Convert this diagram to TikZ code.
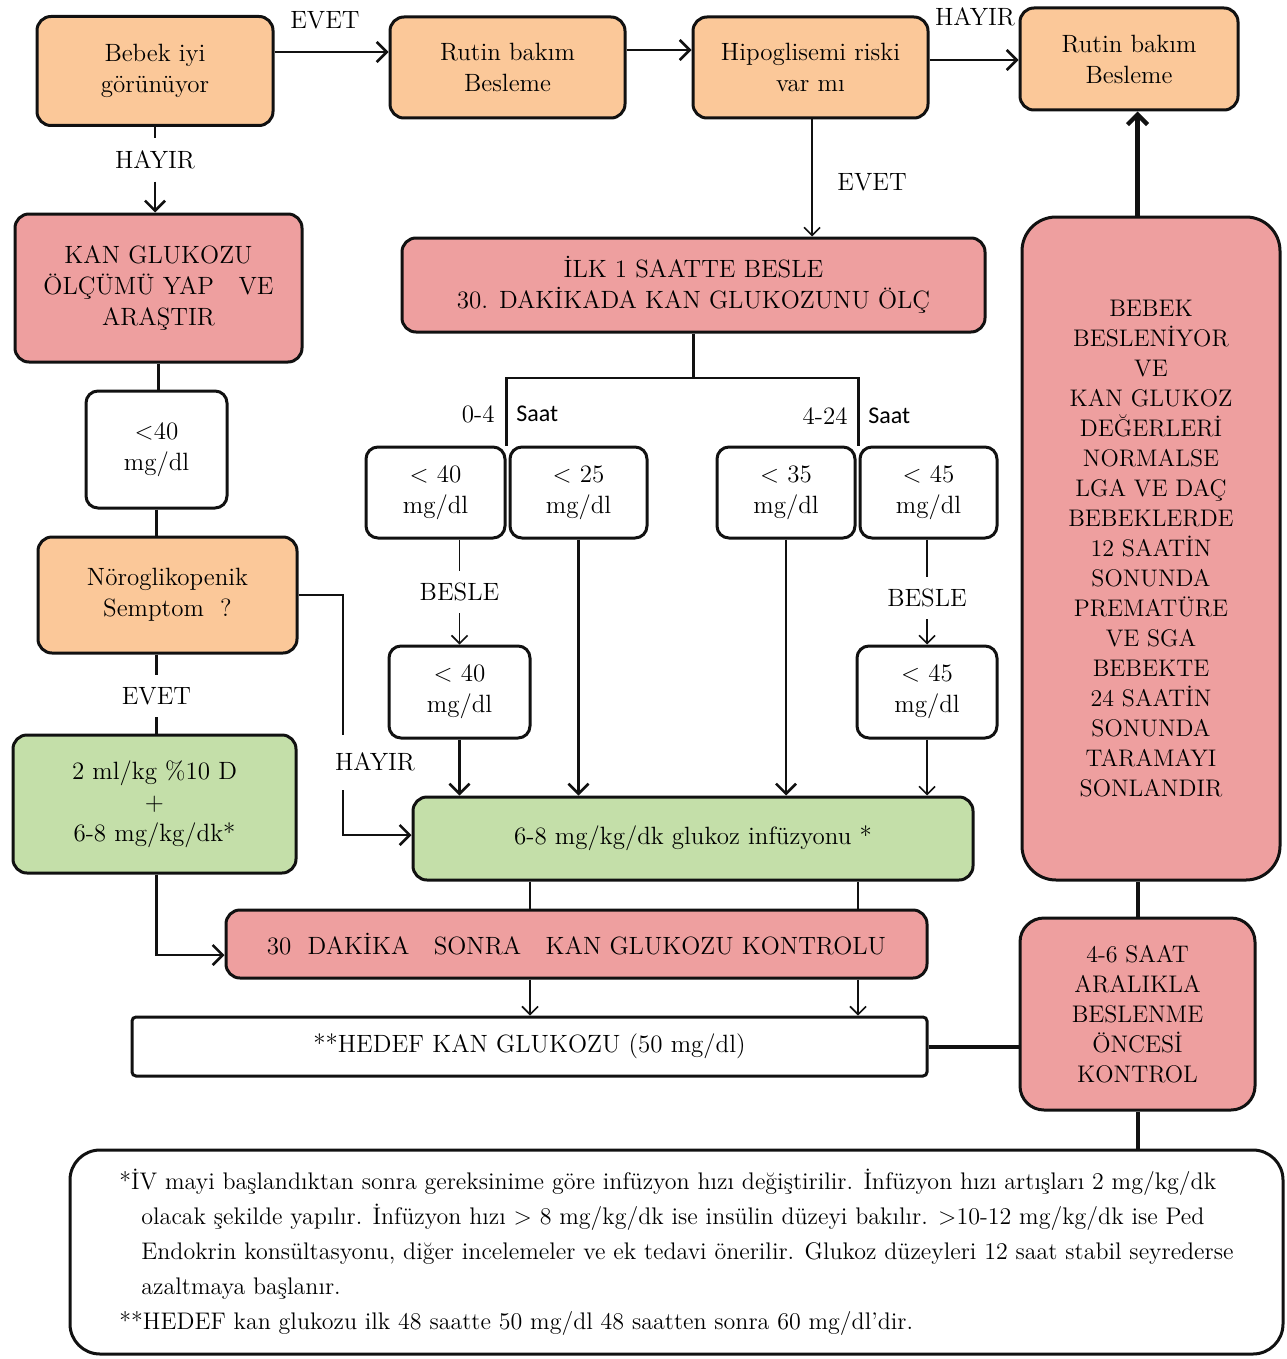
\documentclass[tikz,border=0pt]{standalone}
\usepackage{fontspec}
\newfontfamily\saatfont{Carlito}
\usetikzlibrary{arrows.meta,positioning,calc}
\definecolor{hgorange}{HTML}{FBC899}
\definecolor{hgpink}{HTML}{EE9F9F}
\definecolor{hggreen}{HTML}{C4DFA9}
\definecolor{hgink}{HTML}{111111}
\tikzset{
  bx/.style={rounded corners=7pt, draw=hgink, line width=1.5pt, align=center, inner sep=2pt, font=\fontsize{12.5}{15.5}\selectfont},
  org/.style={bx, fill=hgorange},
  pnk/.style={bx, fill=hgpink},
  grn/.style={bx, fill=hggreen},
  wht/.style={bx, fill=white, rounded corners=6pt},
  arr/.style={-{Straight Barb[length=5pt,width=10pt]}, line width=1.3pt, color=hgink},
  arrs/.style={-{Straight Barb[length=4pt,width=8pt]}, line width=0.8pt, color=hgink},
  ln/.style={line width=1.3pt, color=hgink},
  lns/.style={line width=0.6pt, color=hgink},
  lbl/.style={font=\fontsize{12.5}{15.5}\selectfont, inner sep=1pt},
  gap/.style={lbl, inner ysep=6pt},
  saat/.style={font=\saatfont\fontsize{12}{14}\selectfont, inner sep=1pt},
}

\begin{document}
\begin{tikzpicture}[x=0.5pt, y=-0.5pt]
    \useasboundingbox (0,0) rectangle (1286,1359);
    % top row
    \node[org, minimum width=118pt, minimum height=54.5pt] (bebek) at (155,71) {Bebek iyi\\görünüyor};
    \node[org, minimum width=117.5pt, minimum height=50.5pt] (rutinA) at (507.5,67.5) {Rutin bakım\\Besleme};
    \node[org, minimum width=117.5pt, minimum height=50.5pt] (hipo) at (810.5,67.5) {Hipoglisemi riski\\var mı};
    \node[org, minimum width=109pt, minimum height=51pt] (rutinB) at (1129,59) {Rutin bakım\\Besleme};
    % left column
    \node[pnk, minimum width=143.5pt, minimum height=74pt] (kanolc) at (158.5,288) {KAN GLUKOZU\\ÖLÇÜMÜ YAP\ \ \ VE\\ARAŞTIR};
    \node[wht, minimum width=70.5pt, minimum height=58.5pt] (lt40) at (156.5,449.5) {<40\\mg/dl};
    \node[org, minimum width=129.5pt, minimum height=58pt] (nero) at (167.5,595) {Nöroglikopenik\\Semptom\ \ ?};
    \node[grn, minimum width=141.5pt, minimum height=69pt] (dext) at (154.5,804) {2 ml/kg \%10 D\\+\\6-8 mg/kg/dk*};
    % middle
    \node[pnk, minimum width=291.5pt, minimum height=47pt] (ilk) at (693.5,285) {İLK 1 SAATTE BESLE\\30. DAKİKADA KAN GLUKOZUNU ÖLÇ};
    \node[wht, minimum width=69.5pt, minimum height=45.5pt] (k40) at (435.5,492.5) {< 40\\mg/dl};
    \node[wht, minimum width=68.5pt, minimum height=45.5pt] (k25) at (578.5,492.5) {< 25\\mg/dl};
    \node[wht, minimum width=69pt, minimum height=45.5pt] (k35) at (786,492.5) {< 35\\mg/dl};
    \node[wht, minimum width=68.5pt, minimum height=45.5pt] (k45) at (928.5,492.5) {< 45\\mg/dl};
    \node[wht, minimum width=70.5pt, minimum height=46pt] (k40b) at (459.5,692) {< 40\\mg/dl};
    \node[wht, minimum width=70pt, minimum height=46pt] (k45b) at (927,692) {< 45\\mg/dl};
    \node[grn, minimum width=280pt, minimum height=41.5pt] (infuz) at (693,838.5) {6-8 mg/kg/dk glukoz infüzyonu *};
    \node[pnk, minimum width=350.5pt, minimum height=34pt] (kontrol) at (576.5,944) {30\ \ DAKİKA\ \ \ SONRA\ \ \ KAN GLUKOZU KONTROLU};
    \node[wht, rounded corners=2pt, minimum width=397.5pt, minimum height=29.5pt] (hedef) at (529.5,1046.5) {**HEDEF KAN GLUKOZU (50 mg/dl)};
    % right column
    \node[pnk, rounded corners=17pt, minimum width=129pt, minimum height=331.5pt, font=\fontsize{12}{15}\selectfont] (bebekbes) at (1151,548.5) {BEBEK\\BESLENİYOR\\VE\\KAN GLUKOZ\\DEĞERLERİ\\NORMALSE\\LGA VE DAÇ\\BEBEKLERDE\\12 SAATİN\\SONUNDA\\PREMATÜRE\\VE SGA\\BEBEKTE\\24 SAATİN\\SONUNDA\\TARAMAYI\\SONLANDIR};
    \node[pnk, rounded corners=12pt, minimum width=117.5pt, minimum height=96pt, font=\fontsize{12}{15}\selectfont] (aralik) at (1137.5,1014) {4-6 SAAT\\ARALIKLA\\BESLENME\\ÖNCESİ\\KONTROL};
    % notes
    \node[wht, rounded corners=15pt, minimum width=606.5pt, minimum height=102pt, align=left, font=\fontsize{12}{17.5}\selectfont] (notlar) at (676.5,1252) {*İV mayi başlandıktan sonra gereksinime göre infüzyon hızı değiştirilir. İnfüzyon hızı artışları 2 mg/kg/dk\\
      \hspace*{11pt}olacak şekilde yapılır. İnfüzyon hızı > 8 mg/kg/dk ise insülin düzeyi bakılır. >10-12 mg/kg/dk ise Ped\\
      \hspace*{11pt}Endokrin konsültasyonu, diğer incelemeler ve ek tedavi önerilir. Glukoz düzeyleri 12 saat stabil seyrederse\\
      \hspace*{11pt}azaltmaya başlanır.\\
      **HEDEF kan glukozu ilk 48 saatte 50 mg/dl 48 saatten sonra 60 mg/dl’dir.};
    % labels
    \node[lbl] (evet1) at (325,20) {EVET};
    \node[lbl] (hayir2) at (975,17) {HAYIR};
    \node[lbl] (evet2) at (872,182) {EVET};
    \node[gap] (hayir1) at (155,160) {HAYIR};
    \node[gap] (besle1) at (459.5,592) {BESLE};
    \node[gap] (besle2) at (927,598) {BESLE};
    \node[gap] (evet3) at (156.5,696) {EVET};
    \node[lbl] (hayir3) at (375,762) {HAYIR};
    \node[lbl, anchor=east] (t04) at (497,414) {0-4};
    \node[saat, anchor=west] (s04) at (514,414) {Saat};
    \node[lbl, anchor=east] (t424) at (850,416) {4-24};
    \node[saat, anchor=west] (s424) at (866,416) {Saat};
    \coordinate (spl) at (693.5,378);
    \coordinate (hy1) at (343,735);
    \coordinate (hy2) at (343,790);
    % connectors
    \draw[arr] (bebek.east |- 0,52) -- (rutinA.west |- 0,52);
    \draw[arr] (rutinA.east |- 0,50) -- (hipo.west |- 0,50);
    \draw[arr] (hipo.east |- 0,60) -- (rutinB.west |- 0,60);
    \draw[arrs] (hipo.south -| 812,0) -- (ilk.north -| 812,0);
    \draw[ln] (bebek.south) -- (bebek.south |- hayir1.north);
    \draw[arr] (hayir1.south) -- (hayir1.south |- kanolc.north);
    \draw[ln] (ilk.south) -- (spl);
    \draw[ln] (k40.north east) |- (spl) -| (k45.north west);
    \draw[lns] (k40.south -| besle1) -- (besle1.north);
    \draw[arrs] (besle1.south) -- (k40b.north);
    \draw[lns] (k45.south -| besle2) -- (besle2.north);
    \draw[arrs] (besle2.south) -- (k45b.north);
    \draw[arr] (k25.south) -- (k25.south |- infuz.north);
    \draw[arr] (k35.south) -- (k35.south |- infuz.north);
    \draw[arr] (k40b.south) -- (k40b.south |- infuz.north);
    \draw[arrs] (k45b.south) -- (k45b.south |- infuz.north);
    \draw[ln] (kanolc.south) -- (kanolc.south |- lt40.north);
    \draw[ln] (lt40.south) -- (lt40.south |- nero.north);
    \draw[ln] (lt40.south |- nero.south) -- (evet3.north);
    \draw[ln] (evet3.south) -- (evet3.south |- dext.north);
    \draw[arr] (evet3.south |- dext.south) |- (kontrol.west |- 0,955);
    \draw[ln] (nero.east) -| (hy1);
    \draw[arr] (hy2) |- (infuz.west |- 0,835);
    \foreach \xx in {530,858} {
      \draw[ln] (infuz.south -| \xx,0) -- (kontrol.north -| \xx,0);
      \draw[arrs] (kontrol.south -| \xx,0) -- (hedef.north -| \xx,0);
    }
    \draw[ln, line width=2pt] (hedef.east) -- (hedef.east -| aralik.west);
    \draw[ln, line width=2pt] (aralik.north) -- (aralik.north |- bebekbes.south);
    \draw[arr, line width=2.2pt] (aralik.north |- bebekbes.north) -- (aralik.north |- rutinB.south);
    \draw[ln, line width=2pt] (aralik.south) -- (aralik.south |- notlar.north);
  \end{tikzpicture}
\end{document}
